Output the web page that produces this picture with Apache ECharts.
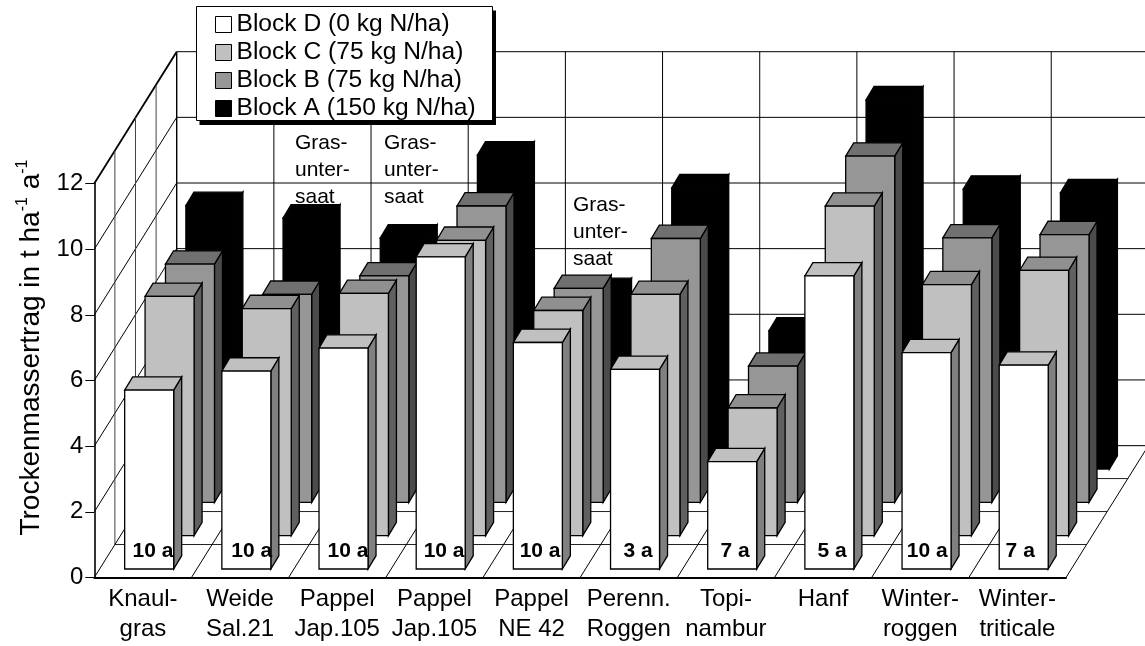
<!DOCTYPE html>
<html><head><meta charset="utf-8">
<style>html,body{margin:0;padding:0;background:#fff}#c{width:1145px;height:646px}</style>
<script src="https://cdn.jsdelivr.net/npm/echarts@6/dist/echarts.min.js"></script>
</head><body><div id="c"></div>
<script>
const categories = ['Knaul-\ngras','Weide\nSal.21','Pappel\nJap.105','Pappel\nJap.105','Pappel\nNE 42','Perenn.\nRoggen','Topi-\nnambur','Hanf','Winter-\nroggen','Winter-\ntriticale'];
const yTicks = [0,2,4,6,8,10,12];
const blockD = [5.45,6.03,6.73,9.51,6.90,6.08,3.27,8.93,6.59,6.21];
const blockC = [7.29,6.92,7.38,9.00,6.86,7.35,3.89,10.04,7.65,8.08];
const blockB = [7.26,6.34,6.90,9.03,6.52,8.04,4.15,10.55,8.06,8.16];
const blockA = [8.03,7.65,7.04,9.57,5.41,8.57,4.21,11.25,8.53,8.42];
const ages = ['10 a','10 a','10 a','10 a','10 a','3 a','7 a','5 a','10 a','7 a'];
const names = ['Block D (0 kg N/ha)','Block C (75 kg N/ha)','Block B (75 kg N/ha)','Block A (150 kg N/ha)'];

// projection constants of the pseudo-3D box
const WALL_DX = 82.4, WALL_DY = -131.9, ROWS = 4;
const BAR_W = 49, BAR_OX = 6.3, BAR_OY = -8.5, ROW_DX = 20.4, ROW_DY = -33.3, SIDE_DX = 8, SIDE_DY = -13.3;
const AGE_NUDGE = [3.8,5.4,4.5,3.4,2.2,3.1,3,2.8,0.7,-3.5];

function line(x1,y1,x2,y2,w,c){
  return {type:'line',shape:{x1,y1,x2,y2},style:{stroke:c||'#000',lineWidth:w||1},silent:true};
}
function wallsRender(params, api){
  if(params.dataIndex!==0) return null;
  const kids=[];
  const o=api.coord([0,0]), band=api.size([1,0])[0];
  const x0=o[0]-band/2, y0=o[1];
  const xEnd=x0+band*categories.length;
  yTicks.forEach(t=>{
    const y=api.coord([0,t])[1];
    kids.push(line(x0+WALL_DX,y+WALL_DY,xEnd+WALL_DX,y+WALL_DY,1));
    if(t>0) kids.push(line(x0,y,x0+WALL_DX,y+WALL_DY,t===12?1.8:1));
  });
  const top=api.coord([0,12])[1];
  for(let k=1;k<=ROWS;k++){
    const dx=WALL_DX*k/ROWS, dy=WALL_DY*k/ROWS;
    kids.push(line(x0+dx,y0+dy,x0+dx,top+dy,k===ROWS?1.4:1,k===ROWS?'#000':'#444'));
    kids.push(line(x0+dx,y0+dy,xEnd+dx,y0+dy,1,'#222'));
  }
  for(let i=0;i<=categories.length;i++){
    const x=x0+band*i;
    kids.push(line(x,y0,x+WALL_DX,y0+WALL_DY,1));
    if(i>0) kids.push(line(x+WALL_DX,y0+WALL_DY,x+WALL_DX,top+WALL_DY,1));
  }
  return {type:'group',children:kids};
}
function barRender(row,front,topc,side,withAge){
  return function(params,api){
    const i=api.value(0), v=api.value(1);
    const c=api.coord([i,0]), t=api.coord([i,v]);
    const ox=BAR_OX+row*ROW_DX, oy=BAR_OY+row*ROW_DY;
    const l=c[0]-BAR_W/2+ox, r=l+BAR_W, b=c[1]+oy, h=t[1]+oy;
    const st=(f)=>({fill:f,stroke:'#000',lineWidth:1.3,lineJoin:'miter'});
    const kids=[
      {type:'polygon',shape:{points:[[r,h],[r+SIDE_DX,h+SIDE_DY],[r+SIDE_DX,b+SIDE_DY],[r,b]]},style:st(side)},
      {type:'polygon',shape:{points:[[l,h],[l+SIDE_DX,h+SIDE_DY],[r+SIDE_DX,h+SIDE_DY],[r,h]]},style:st(topc)},
      {type:'polygon',shape:{points:[[l,h],[r,h],[r,b],[l,b]]},style:st(front)}
    ];
    if(withAge) kids.push({type:'text',style:{text:ages[i],x:(l+r)/2+AGE_NUDGE[i],y:b-18,align:'center',verticalAlign:'middle',
      fontFamily:'Liberation Sans',fontWeight:'bold',fontSize:21,fill:'#000'}});
    return {type:'group',children:kids};
  };
}
function pairs(a){return a.map((v,i)=>[i,v]);}
const chart=echarts.init(document.getElementById('c'),null,{renderer:'canvas'});
const FONT='Liberation Sans';
const gras=(x,y)=>({type:'text',x,y,z:1,style:{text:'Gras-\nunter-\nsaat',fontFamily:FONT,fontSize:21,lineHeight:27,fill:'#000'}});
chart.setOption({
  animation:false,
  backgroundColor:'#fff',
  grid:{left:94.3,right:79,top:183.6,bottom:68.5,containLabel:false,outerBoundsMode:'none'},
  xAxis:{type:'category',data:categories,boundaryGap:true,
    axisLine:{show:true,lineStyle:{color:'#000',width:2}},axisTick:{show:false},splitLine:{show:false},
    axisLabel:{interval:0,fontFamily:FONT,fontSize:24,lineHeight:30,color:'#000',margin:7}},
  yAxis:{type:'value',min:0,max:12,interval:2,
    name:'{a|Trockenmassertrag in t ha}{s|-1}{a| a}{s|-1}',nameLocation:'middle',nameRotate:90,nameGap:46,
    nameTextStyle:{padding:[0,0,0,66],rich:{a:{fontFamily:FONT,fontSize:28,color:'#000',lineHeight:34},s:{fontFamily:FONT,fontSize:16,color:'#000',verticalAlign:'top',lineHeight:26}}},
    axisLine:{show:true,lineStyle:{color:'#000',width:1.6}},axisTick:{show:true,length:9,lineStyle:{color:'#000',width:1}},splitLine:{show:false},
    axisLabel:{fontFamily:FONT,fontSize:24,color:'#000',margin:11}},
  legend:{orient:'vertical',left:215,top:12,padding:0,itemWidth:16,itemHeight:16,itemGap:3,icon:'rect',
    data:names,selectedMode:false,z:5,
    itemStyle:{borderColor:'#000',borderWidth:1},
    textStyle:{fontFamily:FONT,fontSize:24.6,color:'#000'}},
  graphic:{elements:[
    {type:'rect',z:3,silent:true,shape:{x:199.5,y:10.5,width:296.5,height:114.5},style:{fill:'#000'}},
    {type:'rect',z:4,silent:true,shape:{x:196.5,y:6.5,width:296,height:114},style:{fill:'#fff',stroke:'#000',lineWidth:1}},
    gras(295,130),gras(384,130),gras(573,192)
  ]},
  series:[
    {type:'custom',name:'walls',z:1,silent:true,data:pairs(blockA),encode:{x:0,y:1},renderItem:wallsRender},
    {type:'custom',name:names[3],z:2,itemStyle:{color:'#000'},data:pairs(blockA),encode:{x:0,y:1},renderItem:barRender(3,'#000','#000','#000',false)},
    {type:'custom',name:names[2],z:2,itemStyle:{color:'#969696'},data:pairs(blockB),encode:{x:0,y:1},renderItem:barRender(2,'#969696','#707070','#4b4b4b',false)},
    {type:'custom',name:names[1],z:2,itemStyle:{color:'#c0c0c0'},data:pairs(blockC),encode:{x:0,y:1},renderItem:barRender(1,'#c0c0c0','#909090','#606060',false)},
    {type:'custom',name:names[0],z:2,itemStyle:{color:'#fff'},data:pairs(blockD),encode:{x:0,y:1},renderItem:barRender(0,'#fff','#c0c0c0','#808080',true)}
  ]
});
</script></body></html>
